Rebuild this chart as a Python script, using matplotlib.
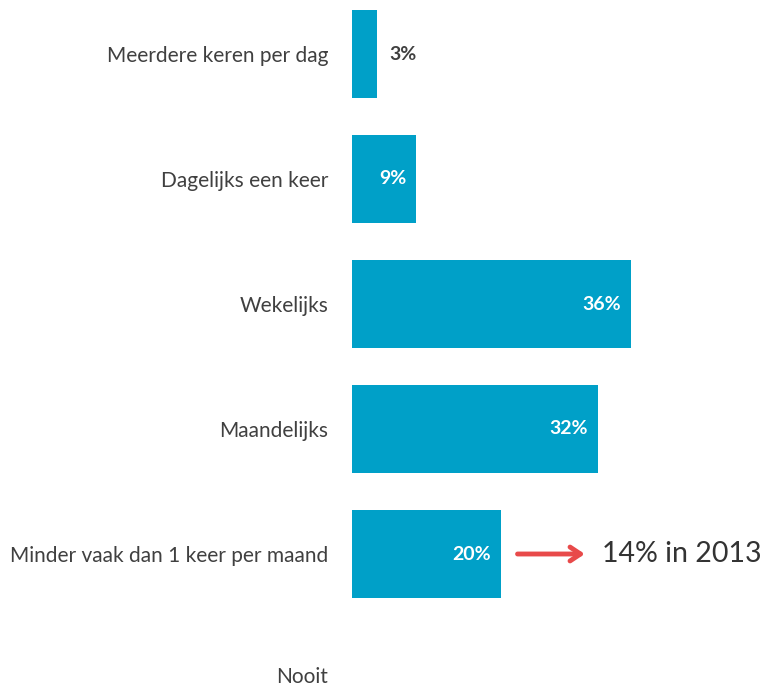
import matplotlib
matplotlib.use("Agg")
import matplotlib.pyplot as plt
import matplotlib.transforms as mtransforms

categories = [
    "Meerdere keren per dag",
    "Dagelijks een keer",
    "Wekelijks",
    "Maandelijks",
    "Minder vaak dan 1 keer per maand",
    "Nooit",
]
values = [3.2, 8.3, 36.0, 31.7, 19.2, 0.0]
labels = ["3%", "9%", "36%", "32%", "20%", ""]
note = "14% in 2013"

BAR = "#00a0c8"
TEXT = "#404040"
plt.rcParams["font.family"] = ["Lato", "DejaVu Sans"]

fig = plt.figure(figsize=(7.65, 6.88), dpi=100)
ax = fig.add_axes([352 / 765, 0, 413 / 765, 1])
ypos = list(range(len(categories)))
ax.barh(ypos, values, height=0.7, color=BAR)
ax.set_xlim(0, 413 / 7.75)
ax.set_ylim((688 - 54) / 125, -54 / 125)
for s in ax.spines.values():
    s.set_visible(False)
ax.set_xticks([])
ax.set_yticks(ypos)
ax.set_yticklabels(categories, fontsize=15, color=TEXT)
ax.tick_params(axis="y", length=0, pad=17)

# last label sits right at the bottom edge, nudge it up a bit
last = ax.get_yticklabels()[-1]
last.set_transform(last.get_transform() + mtransforms.ScaledTranslation(0, 4 / 100, fig.dpi_scale_trans))

for y, v, lab in zip(ypos, values, labels):
    if not lab:
        continue
    if v < 5:
        ax.annotate(lab, (v, y), xytext=(9, 0), textcoords="offset points",
                    ha="left", va="center", fontsize=14, fontweight="bold", color=TEXT)
    else:
        ax.annotate(lab, (v, y), xytext=(-7, 0), textcoords="offset points",
                    ha="right", va="center", fontsize=14, fontweight="bold", color="white")

ax.annotate("", xy=(30.4, 4), xytext=(21.0, 4),
            arrowprops=dict(arrowstyle="->,head_length=0.75,head_width=0.5",
                            color="#e84a4a", lw=3.5))
ax.text(32.3, 4, note, ha="left", va="center", fontsize=20.5, color="#333333")

fig.savefig("out.png", dpi=100)
